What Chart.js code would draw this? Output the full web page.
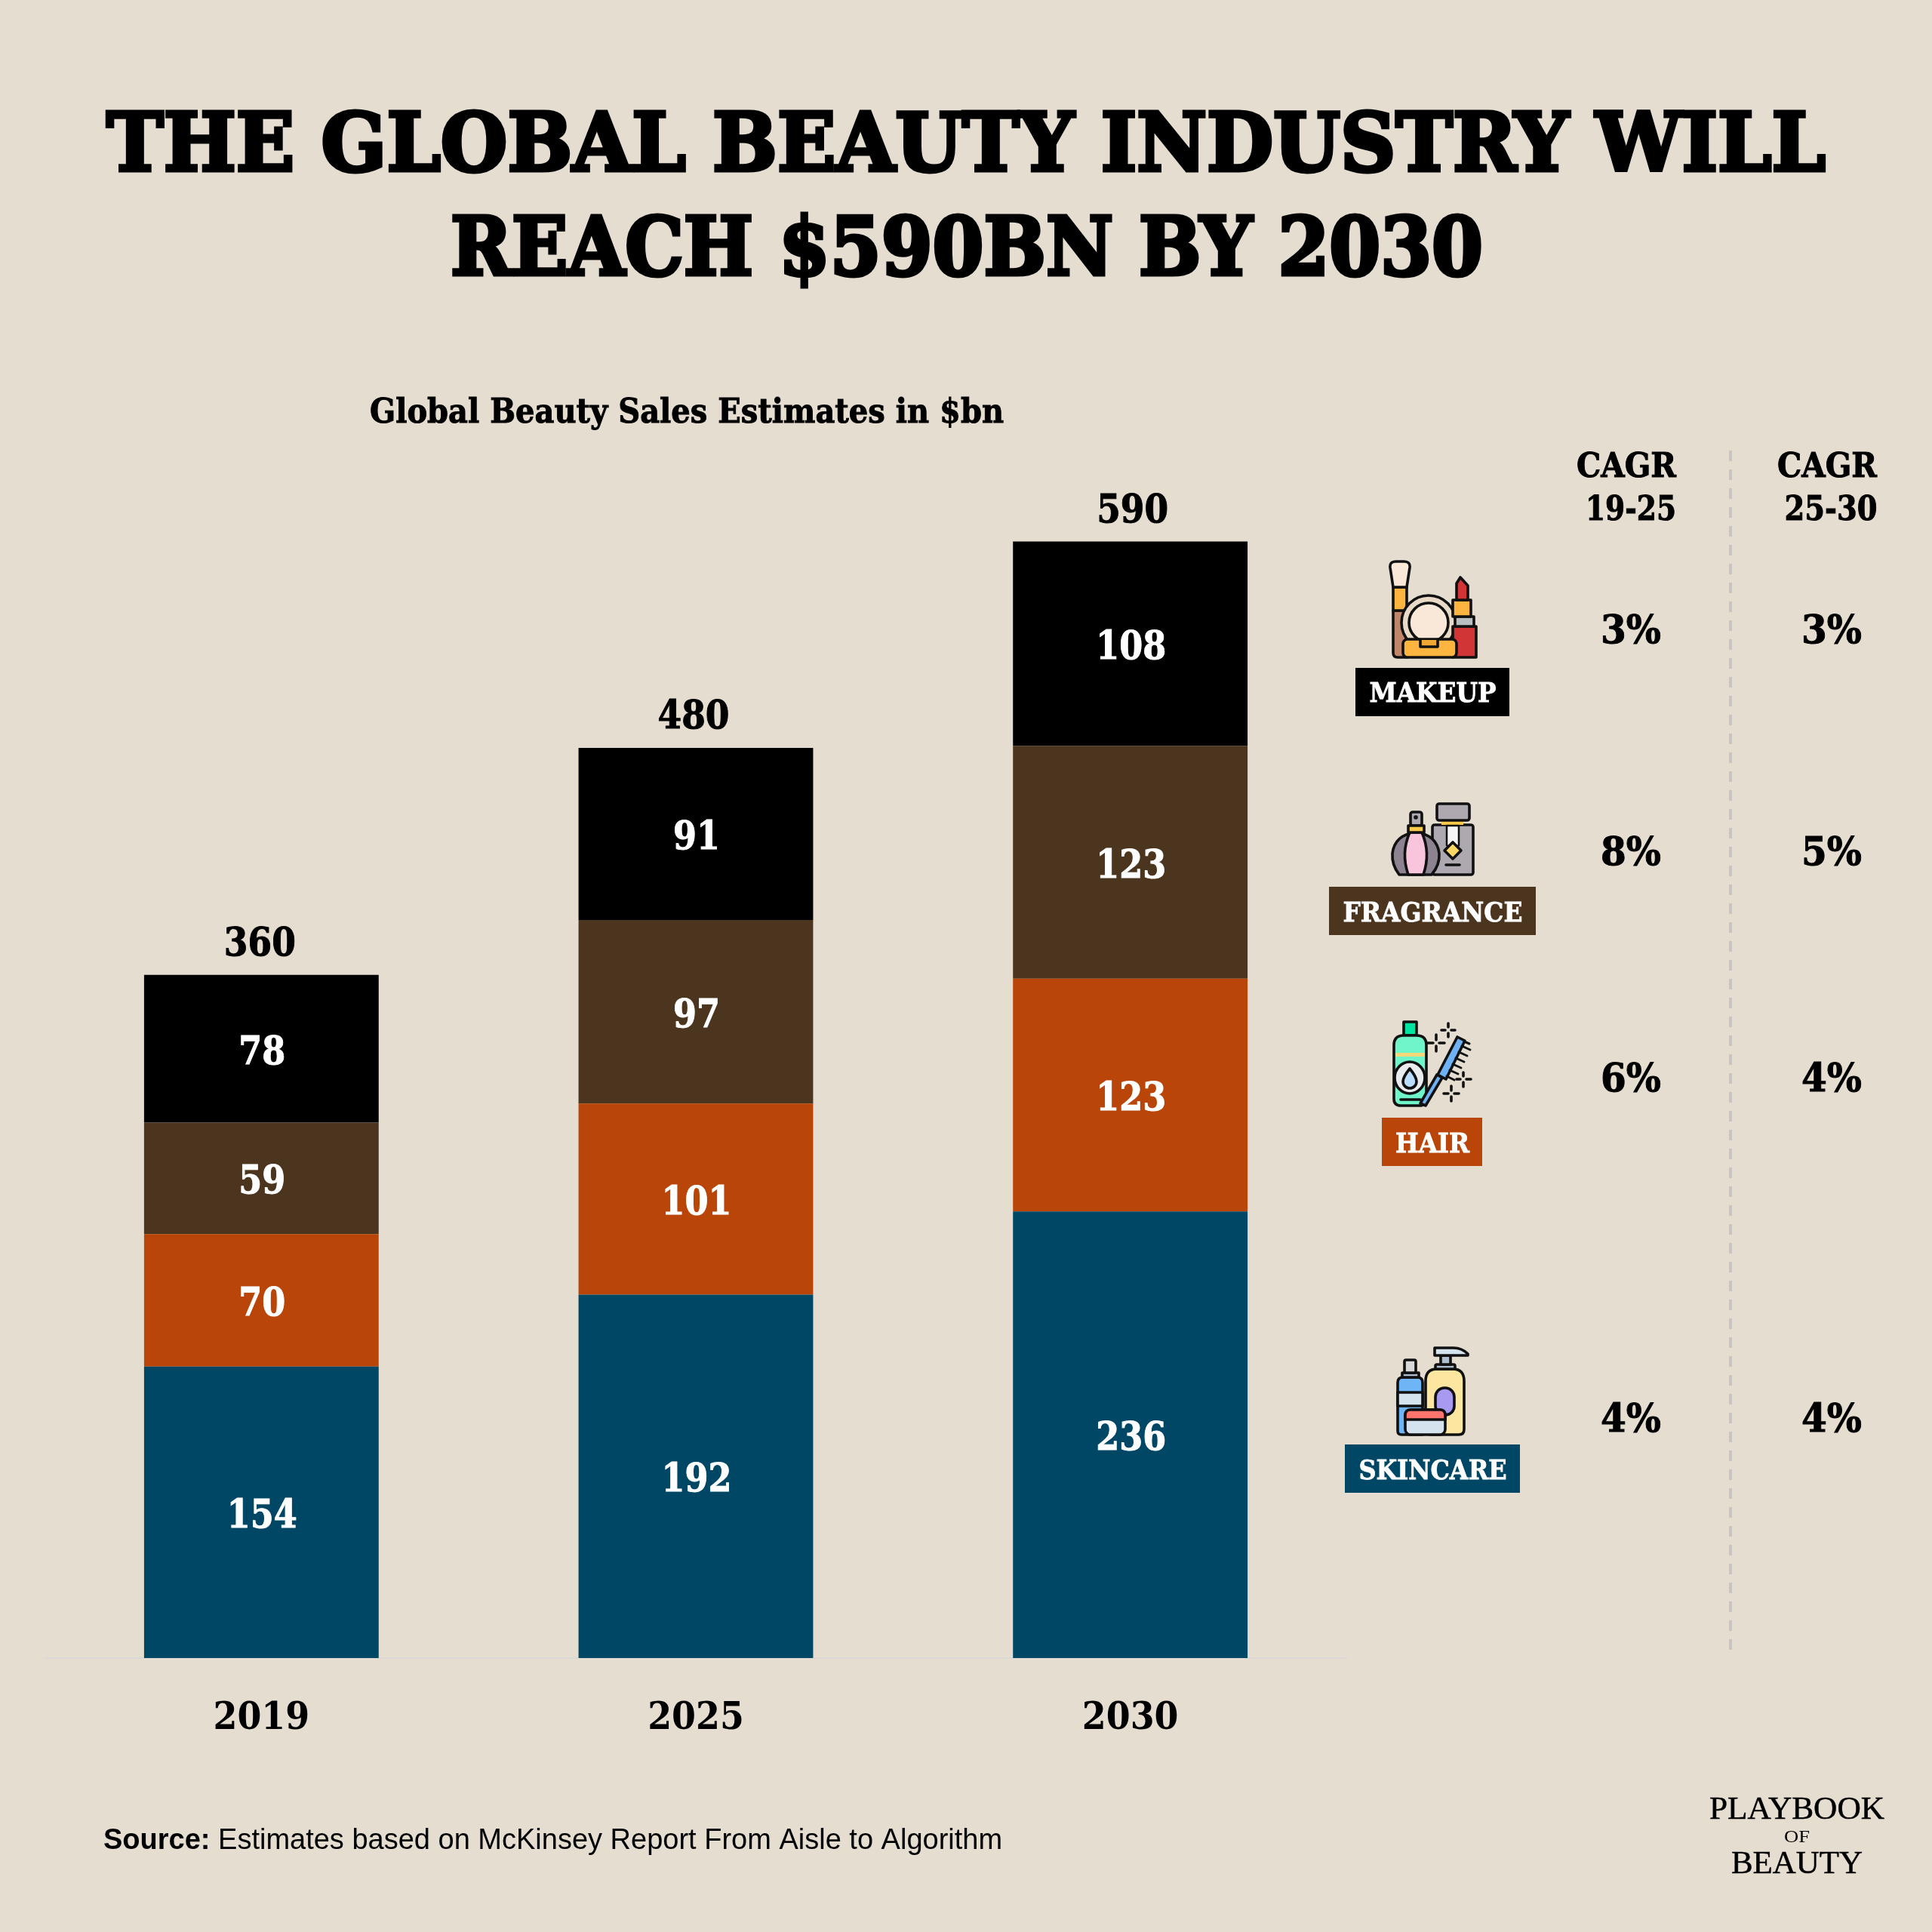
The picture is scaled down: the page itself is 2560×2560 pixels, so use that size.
<!DOCTYPE html>
<html>
<head>
<meta charset="utf-8">
<title>Global Beauty Sales</title>
<script src="https://cdn.jsdelivr.net/npm/chart.js@4/dist/chart.umd.min.js"></script>
<style>
    html, body { margin: 0; padding: 0; background: #e5ddd0; }
    #wrap { position: relative; width: 2560px; height: 2560px; }
    #grafico { position: absolute; left: 0; top: 0; }
    #iconos { position: absolute; left: 0; top: 0; pointer-events: none; }
</style>
</head>
<body>
<div id="wrap">
    <canvas id="grafico" width="2560" height="2560"></canvas>

    <!-- Category icons next to the bars -->
    <svg id="iconos" width="2560" height="2560" viewBox="0 0 2560 2560" fill="none" stroke="#111" stroke-width="3.6" stroke-linejoin="round" stroke-linecap="round">
        <!-- makeup -->
        <g>
            <path d="M1846 809 H1864 V871 H1852 Q1846 871 1846 865 Z" fill="#c1856a"/>
            <rect x="1846" y="778" width="18" height="31" fill="#fdb53f"/>
            <path d="M1846 778 L1842 752 Q1841 744 1850 744 H1860 Q1869 744 1868 752 L1864 778 Z" fill="#f9e8d8"/>
            <circle cx="1893" cy="825" r="36" fill="#e8dac6"/>
            <circle cx="1893" cy="825" r="26" fill="#f9e8d8"/>
            <path d="M1925 830 H1956 V871 H1925 Z" fill="#d13535"/>
            <rect x="1928" y="817" width="25" height="13" fill="#b9bec0"/>
            <rect x="1925" y="795" width="24" height="22" fill="#fdb53f"/>
            <path d="M1930 795 V773 L1935 765 L1945 776 V795 Z" fill="#d13535"/>
            <rect x="1859" y="847" width="71" height="24" rx="6" fill="#fdb53f"/>
            <path d="M1882 848 V857 H1905 V848" fill="#f0a832"/>
        </g>
        <!-- fragrance -->
        <g>
            <rect x="1898" y="1093" width="54" height="66" rx="3" fill="#aea9b0"/>
            <rect x="1910" y="1087" width="29" height="6" fill="#f8c94b" stroke="none"/>
            <rect x="1904" y="1065" width="43" height="22" rx="3" fill="#aea9b0"/>
            <path d="M1917 1094 H1933 V1120 L1925 1127 L1917 1120 Z" fill="#f6f6f6" stroke-width="2.5"/>
            <path d="M1925 1116 L1936 1127 L1925 1138 L1914 1127 Z" fill="#fdd663"/>
            <path d="M1916 1146 H1934"/>
            <path d="M1854 1159 Q1844 1146 1845 1131 Q1848 1106 1876 1103 Q1904 1106 1907 1131 Q1908 1146 1897 1159 Z" fill="#8c8290"/>
            <path d="M1866 1159 Q1856 1130 1868 1103 H1884 Q1896 1130 1886 1159 Z" fill="#f8c5dc"/>
            <rect x="1869" y="1076" width="15" height="18" rx="3" fill="#aea9b0"/>
            <rect x="1866" y="1094" width="21" height="9" fill="#f8c94b"/>
            <circle cx="1876" cy="1083" r="1" fill="#111"/>
        </g>
        <!-- hair -->
        <g>
            <rect x="1860" y="1354" width="17" height="18" fill="#00e5a0"/>
            <path d="M1847 1385 Q1847 1372 1860 1372 H1877 Q1890 1372 1890 1385 V1456 Q1890 1465 1881 1465 H1856 Q1847 1465 1847 1456 Z" fill="#6ff5c9"/>
            <rect x="1849" y="1395" width="39" height="5" fill="#f8d878" stroke="none"/>
            <ellipse cx="1868" cy="1428" rx="20" ry="21" fill="#e9ebee"/>
            <path d="M1868 1416 Q1877 1427 1877 1433 A9 9 0 0 1 1859 1433 Q1859 1427 1868 1416 Z" fill="#bbddfb"/>
            <path d="M1856 1457 H1882"/>
            <path d="M1882 1462 L1904 1424 L1911 1428 L1889 1465 Z" fill="#6fb1f5"/>
            <path d="M1905 1424 L1931 1374 L1941 1379 L1916 1430 Z" fill="#6fb1f5"/>
            <path d="M1940 1380 L1947 1383 M1937 1386 L1948 1391 M1933 1394 L1944 1399 M1929 1402 L1940 1407 M1925 1410 L1936 1415 M1921 1418 L1932 1423 M1917 1426 L1927 1431" stroke-width="3"/>
            <path d="M1892 1382 H1899 M1907 1382 H1914 M1903 1371 V1378 M1903 1386 V1393"/>
            <path d="M1910 1365 H1915 M1923 1365 H1928 M1919 1356 V1361 M1919 1369 V1374"/>
            <path d="M1930 1430 H1935 M1943 1430 H1949 M1939 1421 V1426 M1939 1434 V1440"/>
            <path d="M1913 1449 H1919 M1927 1449 H1933 M1923 1439 V1445 M1923 1453 V1459"/>
        </g>
        <!-- skincare -->
        <g>
            <path d="M1862 1901 H1857 Q1852 1901 1852 1896 V1832 Q1852 1825 1859 1825 H1878 Q1885 1825 1885 1832 V1901 Z" fill="#6fb4f5"/>
            <rect x="1852" y="1845" width="33" height="18" fill="#d5e3ef"/>
            <rect x="1858" y="1819" width="22" height="6" fill="#aebfd0"/>
            <rect x="1861" y="1802" width="15" height="17" rx="2" fill="#d8d8d8"/>
            <path d="M1889 1830 Q1889 1814 1904 1814 H1925 Q1940 1814 1940 1830 V1894 Q1940 1901 1933 1901 H1896 Q1889 1901 1889 1894 Z" fill="#fde6a0"/>
            <rect x="1902" y="1839" width="25" height="36" rx="12" fill="#a89af0"/>
            <rect x="1902" y="1808" width="26" height="6" rx="2" fill="#aebfd0"/>
            <rect x="1909" y="1796" width="13" height="12" fill="#aebfd0"/>
            <path d="M1901 1786 H1926 Q1937 1786 1945 1794 V1796 H1901 Z" fill="#d5e3ef"/>
            <rect x="1862" y="1868" width="53" height="33" rx="7" fill="#d5e3ef"/>
            <path d="M1862 1881 V1875 Q1862 1868 1869 1868 H1908 Q1915 1868 1915 1875 V1881 Z" fill="#ff746c"/>
        </g>
    </svg>
</div>

<script>
// Data of the chart
const anios = ['2019', '2025', '2030'];
const skincare = [154, 192, 236];
const hair = [70, 101, 123];
const fragrance = [59, 97, 123];
const makeup = [78, 91, 108];
const totales = [360, 480, 590];

// Side panel, top row first
const categorias = ['MAKEUP', 'FRAGRANCE', 'HAIR', 'SKINCARE'];
const cagr1925 = ['3%', '8%', '6%', '4%'];
const cagr2530 = ['3%', '5%', '4%', '4%'];

const COLORES = { makeup: '#000000', fragrance: '#4b351e', hair: '#b94608', skincare: '#004766' };
const SLAB = '"DejaVu Serif"';

// Text centered on x, squeezed horizontally to the given width when there is one
function texto(ctx, str, x, y, font, color, ancho, grosor) {
    ctx.save();
    ctx.font = font;
    ctx.fillStyle = color;
    ctx.textAlign = 'center';
    ctx.textBaseline = 'alphabetic';
    const sx = ancho ? ancho / ctx.measureText(str).width : 1;
    ctx.translate(x, y);
    ctx.scale(sx, 1);
    ctx.fillText(str, 0, 0);
    if (grosor) {
        ctx.strokeStyle = color;
        ctx.lineWidth = grosor;
        ctx.lineJoin = 'miter';
        ctx.strokeText(str, 0, 0);
    }
    ctx.restore();
}

// Labels inside each segment and totals above the stacks
const desvioTotales = [-2, -3, 3];
const etiquetasBarras = {
    id: 'etiquetasBarras',
    afterDatasetsDraw(chart) {
        const ctx = chart.ctx;
        chart.data.datasets.forEach((ds, i) => {
            chart.getDatasetMeta(i).data.forEach((bar, j) => {
                const v = String(ds.data[j]);
                const y = (bar.y + bar.base) / 2 + 20;
                texto(ctx, v, bar.x + 1, y, 'bold 52px ' + SLAB, '#ffffff', v.length * 31, 1);
            });
        });
        const top = chart.getDatasetMeta(chart.data.datasets.length - 1).data;
        totales.forEach((t, j) => {
            texto(ctx, String(t), top[j].x + desvioTotales[j], top[j].y - 26, 'bold 52px ' + SLAB, '#000000', 95, 1);
        });
    }
};

// Title, CAGR panel, badges and footer
const textosFijos = {
    id: 'textosFijos',
    afterDraw(chart) {
        const ctx = chart.ctx;
        texto(ctx, 'THE GLOBAL BEAUTY INDUSTRY WILL', 1280, 226, 'bold 106px ' + SLAB, '#000', 2278, 5);
        texto(ctx, 'REACH $590BN BY 2030', 1281, 364, 'bold 106px ' + SLAB, '#000', 1368, 5);
        texto(ctx, 'Global Beauty Sales Estimates in $bn', 910, 560, 'bold 45px ' + SLAB, '#000', 840, 1);

        // CAGR columns
        texto(ctx, 'CAGR', 2155, 632, 'bold 45px ' + SLAB, '#000', 132, 1);
        texto(ctx, '19-25', 2161, 689, 'bold 44px ' + SLAB, '#000', 120, 1);
        texto(ctx, 'CAGR', 2421, 632, 'bold 45px ' + SLAB, '#000', 132, 1);
        texto(ctx, '25-30', 2426, 689, 'bold 44px ' + SLAB, '#000', 123, 1);

        ctx.save();
        ctx.strokeStyle = '#c6c5c2';
        ctx.lineWidth = 4;
        ctx.setLineDash([14, 11]);
        ctx.beginPath();
        ctx.moveTo(2293, 597);
        ctx.lineTo(2293, 2192);
        ctx.stroke();
        ctx.restore();

        const filas = [852, 1146, 1446, 1897];
        const cajas = [
            { x: 1796, y: 885, w: 204, h: 64, base: 930, ancho: 168, color: COLORES.makeup },
            { x: 1761, y: 1175, w: 274, h: 64, base: 1221, ancho: 238, color: COLORES.fragrance },
            { x: 1831, y: 1481, w: 133, h: 64, base: 1527, ancho: 98, color: COLORES.hair },
            { x: 1782, y: 1914, w: 232, h: 64, base: 1960, ancho: 196, color: COLORES.skincare }
        ];
        categorias.forEach((nombre, i) => {
            texto(ctx, cagr1925[i], 2161, filas[i], 'bold 52px ' + SLAB, '#000', 80, 1);
            texto(ctx, cagr2530[i], 2427, filas[i], 'bold 52px ' + SLAB, '#000', 80, 1);
            const c = cajas[i];
            ctx.fillStyle = c.color;
            ctx.fillRect(c.x, c.y, c.w, c.h);
            texto(ctx, nombre, c.x + c.w / 2 + 0.5, c.base, 'bold 35px ' + SLAB, '#fff', c.ancho, 0.8);
        });

        // Footer
        ctx.save();
        ctx.fillStyle = '#000';
        ctx.textAlign = 'left';
        ctx.font = 'bold 38px "Liberation Sans"';
        ctx.fillText('Source:', 137, 2450);
        const w = ctx.measureText('Source: ').width;
        ctx.font = '38px "Liberation Sans"';
        ctx.fillText('Estimates based on McKinsey Report From Aisle to Algorithm', 137 + w, 2450);
        ctx.restore();

        texto(ctx, 'PLAYBOOK', 2381, 2410, '42px "Liberation Serif"', '#000', 232, 0.5);
        texto(ctx, 'OF', 2381, 2441, '24px "Liberation Serif"', '#000', 34);
        texto(ctx, 'BEAUTY', 2381, 2482, '42px "Liberation Serif"', '#000', 174, 0.5);
    }
};

new Chart(document.getElementById('grafico').getContext('2d'), {
    type: 'bar',
    data: {
        labels: anios,
        datasets: [
            { label: 'Skincare', data: skincare, backgroundColor: COLORES.skincare },
            { label: 'Hair', data: hair, backgroundColor: COLORES.hair },
            { label: 'Fragrance', data: fragrance, backgroundColor: COLORES.fragrance },
            { label: 'Makeup', data: makeup, backgroundColor: COLORES.makeup }
        ]
    },
    options: {
        responsive: false,
        animation: false,
        layout: { padding: { top: 191, left: 58.5, right: 774.5, bottom: 0 } },
        plugins: {
            legend: { display: false },
            tooltip: { enabled: false }
        },
        datasets: { bar: { categoryPercentage: 1, barPercentage: 0.54 } },
        scales: {
            x: {
                stacked: true,
                grid: { display: false, drawTicks: false },
                border: { color: '#dad9d5', width: 2 },
                ticks: {
                    color: '#000',
                    padding: 50,
                    font: { family: '"DejaVu Serif Condensed", "DejaVu Serif"', weight: 'bold', size: 51 }
                },
                afterFit(scale) { scale.height = 363; }
            },
            y: { stacked: true, display: false, min: 0, max: 800 }
        }
    },
    plugins: [etiquetasBarras, textosFijos]
});
</script>
</body>
</html>
